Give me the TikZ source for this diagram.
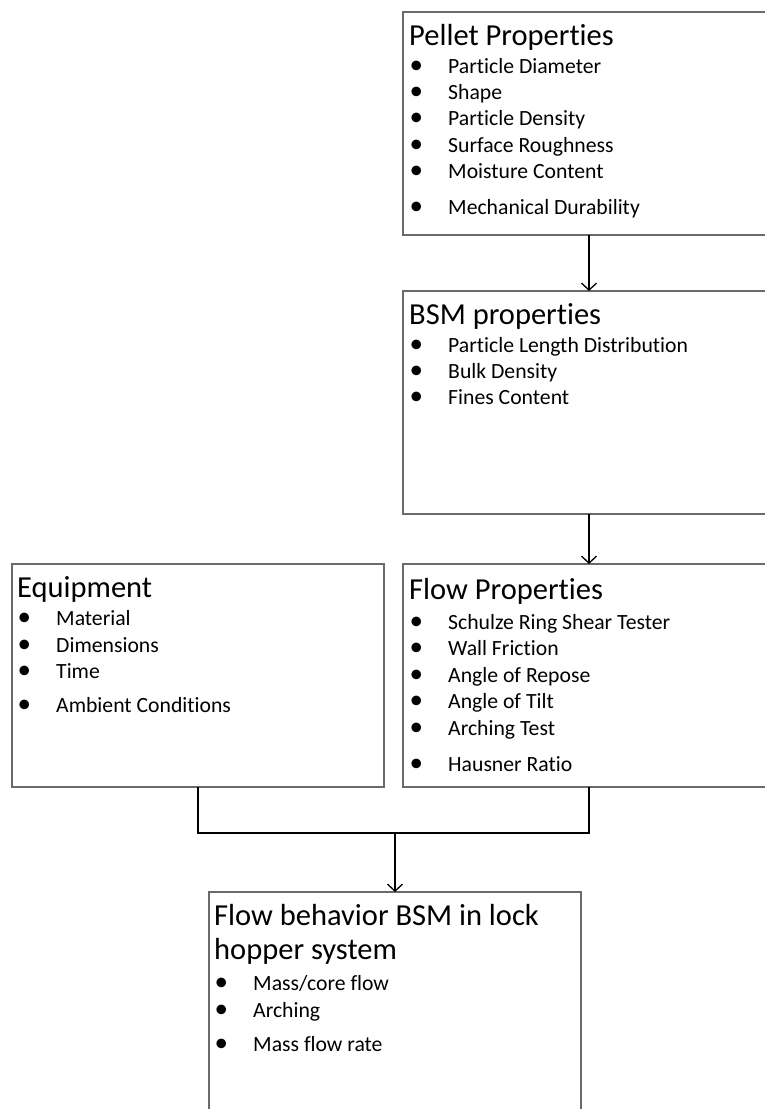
\documentclass[tikz,border=0pt]{standalone}
\usepackage{fontspec}
\setmainfont{Carlito}[Ligatures=NoCommon]
\usetikzlibrary{arrows.meta}
\definecolor{boxline}{HTML}{6A6A6A}
\tikzset{
  box/.style={draw=boxline, line width=1.1pt, minimum width=372pt, minimum height=223pt,
              anchor=north west, inner sep=0pt, outer sep=0pt},
  head/.style={anchor=base west, inner sep=0pt, font=\fontsize{30.5}{33}\selectfont},
  item/.style={anchor=base west, inner sep=0pt, font=\fontsize{21.7}{24}\selectfont},
  dot/.style={anchor=base west, inner sep=0pt, font=\fontsize{27}{30}\selectfont},
  link/.style={draw=black, line width=1.8pt},
  arrowlink/.style={link, -{Straight Barb[length=7pt, width=15pt, line width=1.3pt]}},
}
\begin{document}
\begin{tikzpicture}[x=1pt, y=-1pt]
\useasboundingbox (0,0) rectangle (765,1109);
\clip (0,0) rectangle (765,1109);

% boxes
\node[box] (pellet) at (403,12) {};
\node[box] (bsm)    at (403,291) {};
\node[box] (equip)  at (12,564) {};
\node[box] (flow)   at (403,564) {};
\node[box] (result) at (209,892) {};

% Pellet Properties
\node[head] (pellet-h) at (409,45) {Pellet Properties};
\node[dot] (pellet-d1) at (409.5,73.5) {•};
\node[item] (pellet-i1) at (448,73.5) {Particle Diameter};
\node[dot] (pellet-d2) at (409.5,99.5) {•};
\node[item] (pellet-i2) at (448,99.5) {Shape};
\node[dot] (pellet-d3) at (409.5,125.5) {•};
\node[item] (pellet-i3) at (448,125.5) {Particle Density};
\node[dot] (pellet-d4) at (409.5,152.5) {•};
\node[item] (pellet-i4) at (448,152.5) {Surface Roughness};
\node[dot] (pellet-d5) at (409.5,178.5) {•};
\node[item] (pellet-i5) at (448,178.5) {Moisture Content};
\node[dot] (pellet-d6) at (409.5,214.5) {•};
\node[item] (pellet-i6) at (448,214.5) {Mechanical Durability};

% BSM properties
\node[head] (bsm-h) at (409,324) {BSM properties};
\node[dot] (bsm-d1) at (409.5,352.5) {•};
\node[item] (bsm-i1) at (448,352.5) {Particle Length Distribution};
\node[dot] (bsm-d2) at (409.5,378.5) {•};
\node[item] (bsm-i2) at (448,378.5) {Bulk Density};
\node[dot] (bsm-d3) at (409.5,404.5) {•};
\node[item] (bsm-i3) at (448,404.5) {Fines Content};

% Equipment
\node[head] (equip-h) at (17,597) {Equipment};
\node[dot] (equip-d1) at (17.5,625.5) {•};
\node[item] (equip-i1) at (56,625.5) {Material};
\node[dot] (equip-d2) at (17.5,652.5) {•};
\node[item] (equip-i2) at (56,652.5) {Dimensions};
\node[dot] (equip-d3) at (17.5,678.5) {•};
\node[item] (equip-i3) at (56,678.5) {Time};
\node[dot] (equip-d4) at (17.5,712.5) {•};
\node[item] (equip-i4) at (56,712.5) {Ambient Conditions};

% Flow Properties
\node[head] (flow-h) at (409,599) {Flow Properties};
\node[dot] (flow-d1) at (409.5,629) {•};
\node[item] (flow-i1) at (448,629) {Schulze Ring Shear Tester};
\node[dot] (flow-d2) at (409.5,655.5) {•};
\node[item] (flow-i2) at (448,655.5) {Wall Friction};
\node[dot] (flow-d3) at (409.5,682.5) {•};
\node[item] (flow-i3) at (448,682.5) {Angle of Repose};
\node[dot] (flow-d4) at (409.5,708.5) {•};
\node[item] (flow-i4) at (448,708.5) {Angle of Tilt};
\node[dot] (flow-d5) at (409.5,735.5) {•};
\node[item] (flow-i5) at (448,735.5) {Arching Test};
\node[dot] (flow-d6) at (409.5,771.5) {•};
\node[item] (flow-i6) at (448,771.5) {Hausner Ratio};

% Flow behavior BSM in lock hopper system
\node[head] (result-h1) at (214,925) {Flow behavior BSM in lock};
\node[head] (result-h2) at (214,959) {hopper system};
\node[dot] (result-d1) at (214.5,990.5) {•};
\node[item] (result-i1) at (253,990.5) {Mass/core flow};
\node[dot] (result-d2) at (214.5,1017.5) {•};
\node[item] (result-i2) at (253,1017.5) {Arching};
\node[dot] (result-d3) at (214.5,1051.5) {•};
\node[item] (result-i3) at (253,1051.5) {Mass flow rate};

% connectors
\coordinate (bus) at (395,833);
\draw[arrowlink] (pellet.south) -- (bsm.north);
\draw[arrowlink] (bsm.south) -- (flow.north);
\draw[link] (equip.south) -- (equip.south |- bus) -- (flow.south |- bus) -- (flow.south);
\draw[arrowlink] (bus) -- (result.north);
\end{tikzpicture}
\end{document}
